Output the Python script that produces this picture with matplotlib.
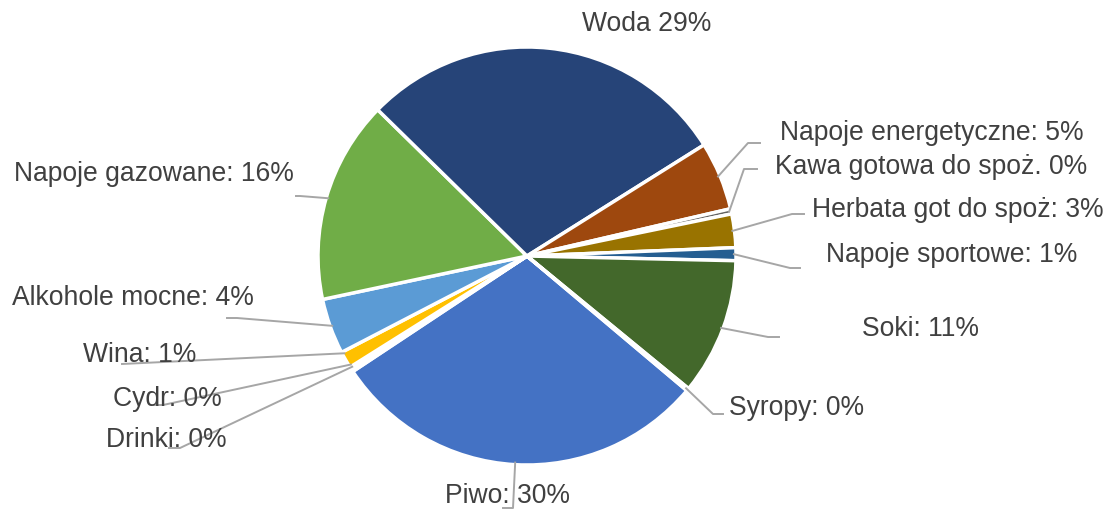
import numpy as np
import matplotlib
matplotlib.use("Agg")
import matplotlib.pyplot as plt

plt.rcParams['font.family'] = ['Liberation Sans', 'DejaVu Sans']

# Slices in Excel order (first slice = Piwo), shares in %
categories = ['Piwo', 'Drinki', 'Cydr', 'Wina', 'Alkohole mocne', 'Napoje gazowane',
              'Woda', 'Napoje energetyczne', 'Kawa gotowa do spoż.', 'Herbata got do spoż',
              'Napoje sportowe', 'Soki', 'Syropy']
values = [29.6, 0.2, 0.2, 1.3, 4.3, 15.7, 28.8, 5.3, 0.4, 2.6, 1.0, 10.6, 0.2]
labels = ['Piwo: 30%', 'Drinki: 0%', 'Cydr: 0%', 'Wina: 1%', 'Alkohole mocne: 4%',
          'Napoje gazowane: 16%', 'Woda 29%', 'Napoje energetyczne: 5%',
          'Kawa gotowa do spoż. 0%', 'Herbata got do spoż: 3%', 'Napoje sportowe: 1%',
          'Soki: 11%', 'Syropy: 0%']
colors = ['#4472C4', '#ED7D31', '#A5A5A5', '#FFC000', '#5B9BD5', '#70AD47',
          '#264478', '#9E480E', '#636363', '#997300', '#255E91', '#43682B', '#698ED0']

W, H = 1107, 509
cx, cy, R = 527, H - 256, 209

# label layout in pixel coords: text x, text y, ha, elbow, end (None = no leader)
layout = [
    (445, 494, 'left', (513, 508), (503, 508)),
    (106, 438, 'left', (180, 448), (169, 448)),
    (113, 397, 'left', (163, 405), (154, 405)),
    (83, 353, 'left', (122, 364), (122, 364)),
    (12, 296, 'left', (237, 318), (227, 318)),
    (14, 172, 'left', (300, 196), (296, 196)),
    (647, 22, 'center', None, None),
    (780, 131, 'left', (748, 143), (760, 143)),
    (775, 165, 'left', (744, 169), (757, 169)),
    (812, 208, 'left', (792, 214), (804, 214)),
    (826, 253, 'left', (790, 268), (800, 268)),
    (862, 327, 'left', (768, 337), (779, 337)),
    (729, 406, 'left', (713, 414), (723, 414)),
]

fig = plt.figure(figsize=(W / 100, H / 100), dpi=100)
ax = fig.add_axes([0, 0, 1, 1])

wedges, _ = ax.pie(values, colors=colors, startangle=-40.1, counterclock=False,
                   center=(cx, cy), radius=R,
                   wedgeprops=dict(edgecolor='white', linewidth=2.5))

ax.set_xlim(0, W)
ax.set_ylim(0, H)
ax.set_aspect('auto')
ax.axis('off')

for i, (w, lab, (tx, ty, ha, elbow, end)) in enumerate(zip(wedges, labels, layout)):
    if elbow is not None:
        ang = (w.theta1 + w.theta2) / 2
        # tiny slices next to Piwo: leader starts on the Piwo edge
        if categories[i] in ('Drinki', 'Cydr'):
            ang = w.theta2 - 1.2
        if categories[i] == 'Wina':
            ang = w.theta1 + 0.6
        mid = np.deg2rad(ang)
        sx = cx + R * 0.99 * np.cos(mid)
        sy = cy + R * 0.99 * np.sin(mid)
        ax.plot([sx, elbow[0], end[0]], [sy, H - elbow[1], H - end[1]],
                color='#A6A6A6', lw=1.4, zorder=1)
    ax.text(tx, H - ty - 2, lab, ha=ha, va='center', fontsize=19.1, color='#404040', zorder=3)

fig.savefig('out.png', dpi=100)
